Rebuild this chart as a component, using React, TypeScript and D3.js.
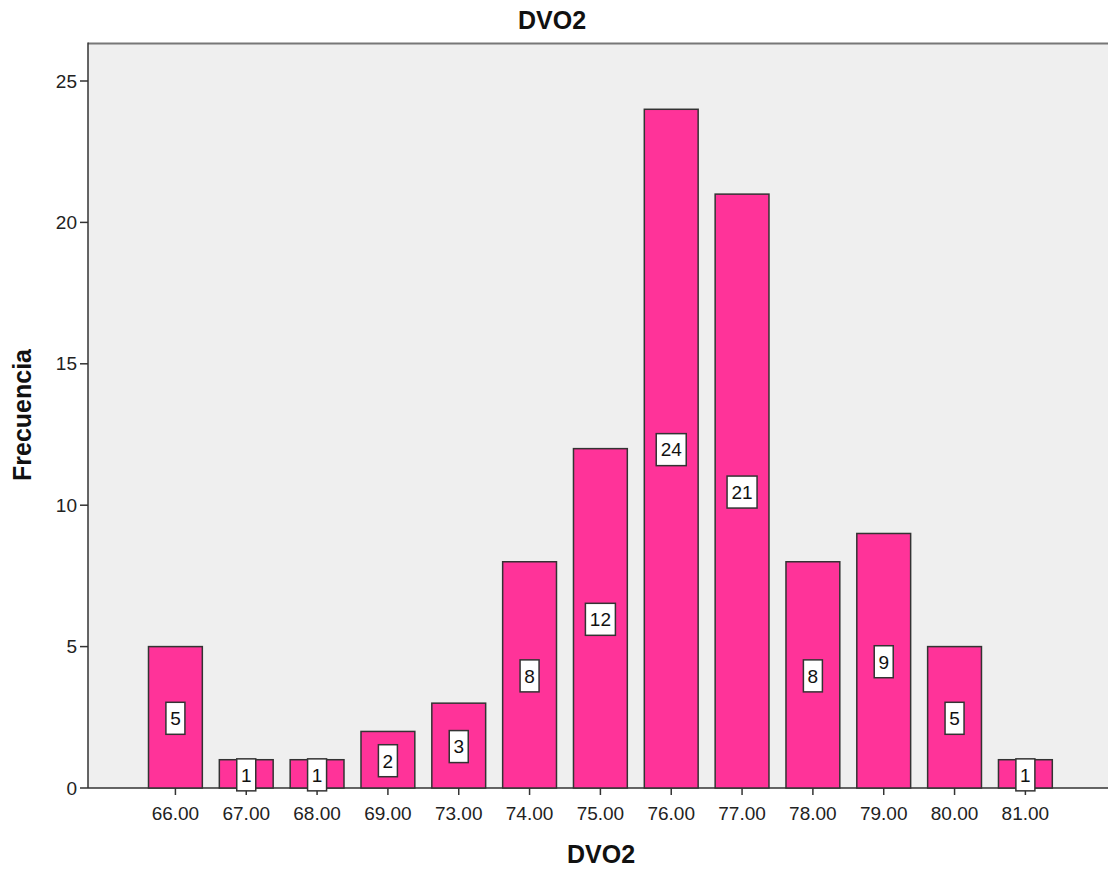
import React from "react";
import * as d3 from "d3";

const categories = ["66.00", "67.00", "68.00", "69.00", "73.00", "74.00", "75.00", "76.00", "77.00", "78.00", "79.00", "80.00", "81.00"];
const counts = [5, 1, 1, 2, 3, 8, 12, 24, 21, 8, 9, 5, 1];
const yTicks = [0, 5, 10, 15, 20, 25];
const chartTitle = "DVO2";
const xTitle = "DVO2";
const yTitle = "Frecuencia";

const W = 1108;
const H = 872;
const plotLeft = 88;
const plotTop = 43.5;
const plotBottom = 788;
const font = "'Liberation Sans', Arial, sans-serif";

export default function App() {
  const x = d3.scaleBand<string>().domain(categories).range([140, 1060.8]).padding(0);
  const y = d3.scaleLinear().domain([0, 25]).range([plotBottom, 81]);
  const barW = x.bandwidth() * 0.76;

  return (
    <svg width={W} height={H} style={{ position: "absolute", left: 0, top: 0, background: "#fff" }}>
      <rect x={plotLeft} y={plotTop} width={W - plotLeft + 5} height={plotBottom - plotTop} fill="#EFEFEF" />
      <line x1={plotLeft} x2={W} y1={plotTop} y2={plotTop} stroke="#777" strokeWidth={2} />
      <line x1={plotLeft} x2={plotLeft} y1={plotTop - 1} y2={plotBottom} stroke="#333" strokeWidth={1.5} />
      <line x1={plotLeft} x2={W} y1={plotBottom} y2={plotBottom} stroke="#333" strokeWidth={1.5} />

      {yTicks.map((t) => (
        <g key={t}>
          <line x1={plotLeft - 8} x2={plotLeft} y1={y(t)} y2={y(t)} stroke="#333" strokeWidth={1.5} />
          <text x={plotLeft - 11} y={y(t)} dy="0.35em" textAnchor="end" fontFamily={font} fontSize={19} fill="#222">{t}</text>
        </g>
      ))}

      {categories.map((c, i) => {
        const cx = (x(c) as number) + x.bandwidth() / 2;
        const v = counts[i];
        const top = y(v);
        const mid = (top + plotBottom) / 2 + 1;
        const txt = String(v);
        const bw = txt.length === 1 ? 19 : 30;
        return (
          <g key={c}>
            <line x1={cx} x2={cx} y1={plotBottom} y2={plotBottom + 7} stroke="#333" strokeWidth={1.5} />
            <text x={cx} y={813.5} dy="0.35em" textAnchor="middle" fontFamily={font} fontSize={19} fill="#222">{c}</text>
            <rect x={cx - barW / 2} y={top} width={barW} height={plotBottom - top} fill="#FF3399" stroke="#333" strokeWidth={1.5} />
            <rect x={cx - bw / 2} y={mid - 16} width={bw} height={32} fill="#fff" stroke="#333" strokeWidth={1.5} />
            <text x={cx} y={mid} dy="0.36em" textAnchor="middle" fontFamily={font} fontSize={19} fill="#111">{txt}</text>
          </g>
        );
      })}

      <text x={552} y={29} textAnchor="middle" fontFamily={font} fontSize={25} fontWeight="bold" fill="#111">{chartTitle}</text>
      <text x={601} y={863} textAnchor="middle" fontFamily={font} fontSize={25} fontWeight="bold" fill="#111">{xTitle}</text>
      <text transform={`translate(31, 415) rotate(-90)`} textAnchor="middle" fontFamily={font} fontSize={25} fontWeight="bold" fill="#111">{yTitle}</text>
    </svg>
  );
}
